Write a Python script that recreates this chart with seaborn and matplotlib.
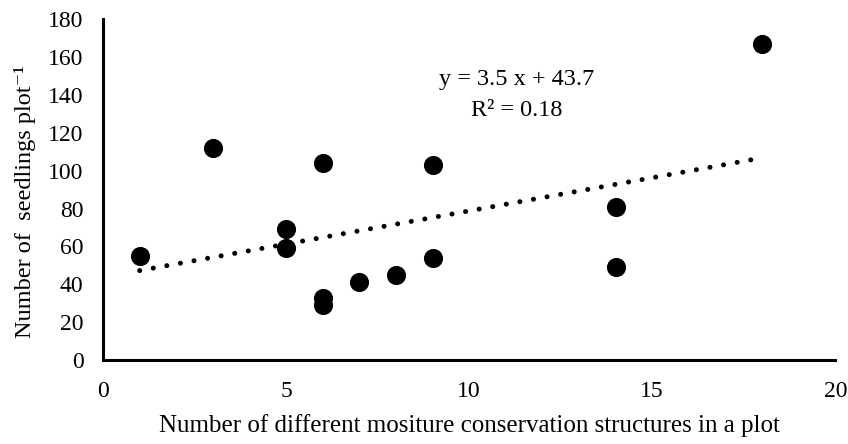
import numpy as np
import pandas as pd
import matplotlib
matplotlib.use("Agg")
import matplotlib.pyplot as plt
import seaborn as sns

# Datos
structures = [1, 3, 5, 5, 6, 6, 6, 7, 8, 9, 9, 14, 14, 18]
seedlings = [55, 112, 69, 59, 104, 33, 29, 41, 45, 103, 54, 81, 49, 167]
x_ticks = [0, 5, 10, 15, 20]
y_ticks = [0, 20, 40, 60, 80, 100, 120, 140, 160, 180]

df = pd.DataFrame({"structures": structures, "seedlings": seedlings})

sns.set_style("white")
plt.rcParams['font.family'] = ['Liberation Serif', 'DejaVu Serif']
plt.rcParams['text.color'] = 'black'
plt.rcParams['axes.labelcolor'] = 'black'

fig = plt.figure(figsize=(8.48, 4.44), dpi=100)
ax = fig.add_axes([0.1215, 0.189, 0.8635, 0.768])

sns.scatterplot(data=df, x="structures", y="seedlings", s=190, color="black",
                edgecolor="black", linewidth=0, ax=ax, zorder=3)

# Línea de tendencia lineal
slope, intercept = np.polyfit(df["structures"], df["seedlings"], 1)
r2 = np.corrcoef(df["structures"], df["seedlings"])[0, 1] ** 2
xs = np.linspace(df["structures"].min(), df["structures"].max(), 50)
ax.plot(xs, slope * xs + intercept, color="black", linewidth=3.6,
        linestyle=(0, (0.01, 2.75)), dash_capstyle="round", zorder=2)

ax.text(11.3, 148, f"y = {slope:.1f} x + {intercept:.1f}", ha="center", va="center", fontsize=17.5)
ax.text(11.3, 132, f"R² = {r2:.2f}", ha="center", va="center", fontsize=17.5)

ax.set_xlim(0, 20)
ax.set_ylim(0, 180)
ax.set_xticks(x_ticks)
ax.set_yticks(y_ticks)
ax.set_xlabel("Number of different mositure conservation structures in a plot", fontsize=18, labelpad=9)
ax.set_ylabel("Number of  seedlings plot⁻¹", fontsize=17.5)
ax.yaxis.set_label_coords(-0.092, 0.465)

for side in ["top", "right"]:
    ax.spines[side].set_visible(False)
for side in ["left", "bottom"]:
    ax.spines[side].set_linewidth(2.2)
    ax.spines[side].set_color("black")
ax.tick_params(direction="out", length=4, width=2, labelsize=17, colors="black")
ax.tick_params(axis="x", pad=11)
ax.tick_params(axis="y", pad=10)

fig.savefig("out.png", dpi=100)
